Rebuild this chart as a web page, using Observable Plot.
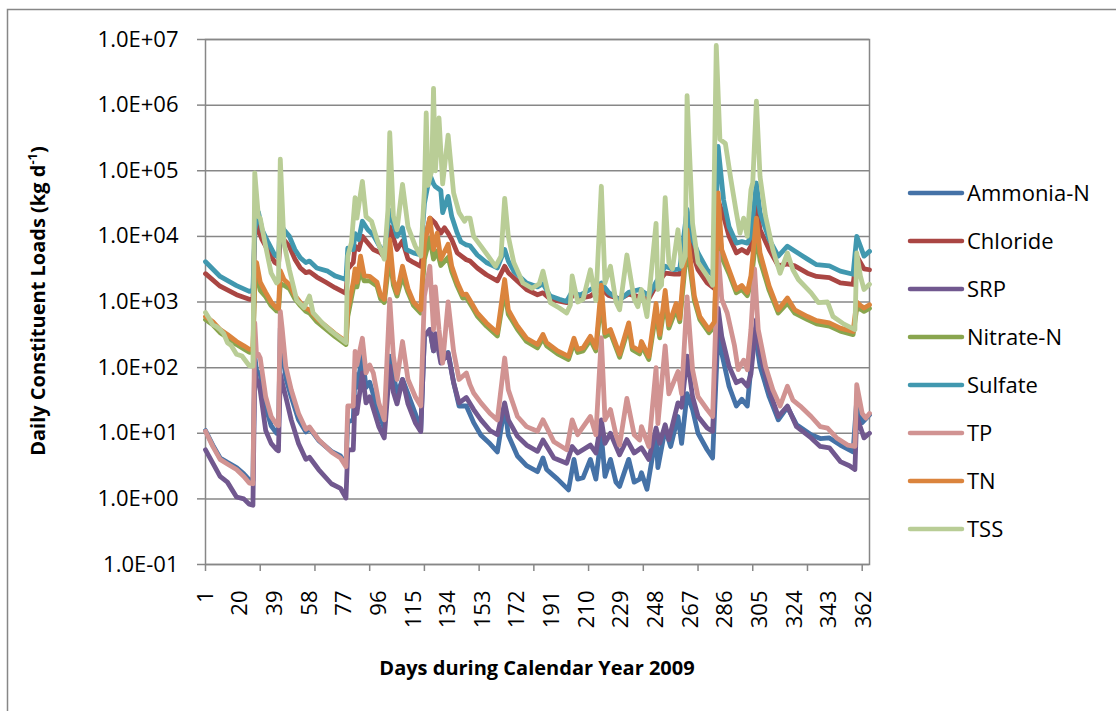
<!DOCTYPE html>
<html><head><meta charset="utf-8">
<script src="https://cdn.jsdelivr.net/npm/d3@7"></script>
<script src="https://cdn.jsdelivr.net/npm/@observablehq/plot@0.6"></script>
<style>html,body{margin:0;padding:0;background:#fff}</style>
</head><body><div id="chart"></div>
<script>
const seriesNames = ["Ammonia-N","Chloride","SRP","Nitrate-N","Sulfate","TP","TN","TSS"];
const seriesColors = ["#4572A7","#AA4643","#71588F","#89A54E","#4198AF","#D19392","#DB843D","#B9CD96"];

const ammoniaN = [[1,11],[5,6.6],[9,4.2],[13,3.6],[18,3.0],[22,2.4],[25,1.95],[27,1.9],[28,150],[29,90],[31,80],[34,25],[37,13],[40,10],[41,10],[42,400],[43,200],[45,70],[48,36],[52,16],[56,10.5],[58,12],[63,7.8],[70,5.3],[75,4.5],[78,3.3],[79,15],[82,16],[83,80],[84,50],[87,150],[89,50],[91,60],[96,20],[99,12],[102,150],[104,80],[106,40],[109,66],[112,40],[116,20],[119,11],[121,300],[124,380],[126,180],[127,300],[130,150],[134,170],[137,60],[140,26],[144,26],[148,14.5],[152,9.3],[157,6.9],[161,5.2],[165,26],[167,9.3],[172,4.5],[177,3.2],[183,2.6],[186,4.2],[188,2.8],[194,2.0],[200,1.37],[203,4.0],[205,2.0],[208,2.1],[212,4.0],[215,2.0],[218,9.3],[220,2.2],[223,4.0],[226,1.8],[228,1.55],[233,4.0],[236,1.8],[239,2.0],[240,2.5],[243,1.4],[248,9.3],[249,3.0],[253,11.7],[256,6.3],[260,18],[262,7],[265,40],[268,23],[271,10],[276,5.6],[279,4.2],[282,355],[284,166],[288,52],[292,26],[295,33],[298,26],[302,380],[305,105],[310,36],[315,16],[320,25],[325,13.5],[333,9.5],[338,8.3],[343,8.5],[349,6.6],[356,5.2],[358,32],[361,14.5],[365,19]];

const chloride = [[1,2700],[9,1740],[18,1290],[25,1100],[27,1120],[28,10000],[29,15000],[32,8900],[35,6300],[39,4000],[41,3700],[42,8900],[44,8900],[47,7000],[50,4500],[53,3300],[56,2800],[58,2900],[62,2400],[67,2000],[72,1650],[78,1350],[79,3200],[82,4000],[83,7100],[85,6300],[87,10000],[90,7900],[93,6300],[97,5600],[99,4800],[102,14000],[106,6300],[109,8500],[112,4500],[115,4000],[119,3500],[121,7900],[124,19000],[127,15800],[130,11200],[132,13500],[134,11200],[136,8900],[139,5600],[144,4400],[146,4200],[150,3300],[155,2600],[161,2100],[165,3500],[167,2800],[170,2350],[177,1550],[183,1290],[186,1380],[190,1100],[199,980],[203,1320],[207,1150],[212,1230],[218,1600],[222,1260],[228,1120],[233,1320],[239,1200],[244,1120],[248,1780],[253,2750],[258,2650],[261,2650],[265,15800],[268,5600],[271,3100],[276,1950],[280,1600],[282,35000],[285,20400],[288,10000],[292,5600],[295,6300],[298,5600],[300,7100],[303,31600],[305,12600],[310,6300],[315,3550],[320,3800],[324,3550],[331,2750],[336,2450],[343,2350],[349,1950],[356,1850],[358,5000],[360,4000],[362,3200],[365,3100]];

const srp = [[1,5.6],[5,3.5],[9,2.2],[13,1.8],[18,1.07],[22,1.0],[25,0.83],[27,0.8],[28,90],[29,66],[30,60],[31,45],[34,11],[37,7],[40,5.6],[41,5.4],[42,80],[43,60],[45,36],[48,16],[52,7],[56,4],[58,4.3],[63,2.8],[70,1.7],[75,1.45],[78,1.03],[79,5.6],[82,5.6],[83,36],[84,20],[87,83],[89,29],[91,36],[96,12.6],[99,8.5],[102,105],[104,42],[106,28],[109,66],[112,28],[116,14.5],[119,10.6],[121,300],[124,380],[126,180],[127,330],[130,117],[134,165],[137,59],[140,29],[144,35],[148,23],[152,16],[157,11],[161,9.5],[165,29],[167,16],[172,9],[177,6.6],[183,5.3],[186,7.9],[192,4.2],[199,3.5],[202,6.3],[205,5],[212,6.6],[215,5],[218,16],[220,7],[223,10],[228,4.7],[232,8],[236,5],[240,6],[244,4],[248,12],[250,7],[253,13.5],[255,8],[260,29],[262,25],[265,150],[268,36],[271,18],[276,12],[279,10.7],[282,800],[284,300],[288,105],[292,59],[295,65],[298,52],[300,80],[303,540],[305,166],[310,46],[315,18],[320,26],[325,12.6],[333,8.5],[338,6.3],[343,6],[349,3.7],[354,3.2],[357,2.8],[358,18],[362,8.5],[365,10]];

const nitrateN = [[1,540],[5,450],[9,340],[13,288],[18,225],[22,193],[25,171],[27,171],[28,1900],[29,2600],[31,1500],[34,1200],[37,880],[40,730],[41,720],[42,1900],[44,1800],[47,1600],[50,1120],[53,880],[56,720],[58,680],[62,500],[67,385],[72,297],[78,225],[79,600],[82,1600],[83,2200],[84,1700],[86,3000],[88,2100],[91,2100],[95,1750],[97,1120],[99,980],[102,5000],[104,1800],[106,1230],[109,2500],[112,1400],[115,890],[119,680],[121,4500],[124,9500],[126,4500],[128,6000],[130,3600],[134,4800],[136,2900],[139,1750],[142,1150],[144,1170],[147,850],[150,610],[155,430],[161,305],[165,1500],[167,650],[172,385],[177,250],[183,200],[186,280],[188,215],[194,162],[200,133],[203,240],[205,170],[208,180],[212,265],[215,180],[218,1150],[220,300],[223,335],[228,144],[233,410],[235,188],[239,162],[240,220],[244,133],[248,700],[250,285],[253,1050],[255,400],[259,780],[261,500],[265,7500],[269,1050],[272,540],[277,340],[280,420],[282,26000],[284,4800],[288,2700],[292,1380],[295,1550],[298,1250],[300,1900],[303,11000],[305,4300],[310,1500],[315,680],[320,960],[324,680],[331,540],[336,465],[343,430],[349,360],[356,318],[358,800],[360,780],[362,720],[365,800]];

const sulfate = [[1,4100],[9,2450],[18,1780],[25,1450],[27,1500],[28,12600],[30,23500],[32,12600],[35,8500],[39,5200],[41,4800],[42,16000],[44,12600],[47,10000],[50,6300],[53,4700],[56,4000],[58,4200],[62,3300],[68,2950],[72,2500],[78,2200],[79,6600],[82,6300],[83,11000],[85,9000],[87,17000],[90,12600],[93,10500],[97,6600],[99,5600],[102,25000],[106,10000],[109,13500],[111,6300],[115,5600],[119,5200],[121,31600],[124,87000],[126,63000],[127,57500],[130,50000],[131,23000],[134,40700],[136,20000],[139,11200],[141,8300],[144,7400],[146,7200],[150,5200],[155,4000],[161,3300],[165,6300],[167,4200],[170,2950],[177,1950],[183,1700],[186,1900],[190,1230],[195,1100],[199,1020],[202,1450],[206,1260],[212,1550],[218,1950],[222,1400],[228,1070],[233,1400],[239,1550],[244,1260],[248,2000],[253,3500],[258,3100],[261,3200],[265,25700],[268,9000],[271,5600],[276,3100],[280,2450],[282,234000],[285,36000],[288,14000],[292,7900],[295,8300],[298,7900],[300,10000],[303,65000],[305,23000],[310,9000],[315,5000],[320,7100],[324,6000],[331,4500],[336,3700],[343,3550],[349,2950],[356,2650],[358,10000],[360,7100],[362,5000],[365,5900]];

const tp = [[1,10.7],[5,6.3],[9,4.0],[13,3.4],[18,2.8],[22,2.2],[25,1.74],[27,1.7],[28,480],[29,150],[30,160],[31,140],[34,36],[37,18],[40,13.5],[41,13],[42,720],[43,400],[45,105],[48,46],[52,20],[56,11.5],[58,12.5],[63,8],[70,5.2],[75,4.2],[78,3.1],[79,26],[82,26],[83,177],[84,110],[87,280],[89,83],[91,110],[93,83],[96,29],[99,16],[102,1100],[104,150],[106,66],[109,250],[112,66],[116,36],[119,26],[121,1230],[124,3500],[126,380],[127,1700],[129,380],[131,117],[134,1000],[137,178],[140,66],[144,83],[146,55],[148,41],[152,29],[157,20],[161,16],[165,140],[167,46],[172,18],[177,12.6],[183,10.7],[186,16],[192,7.4],[199,5.6],[202,16],[205,9.5],[212,18],[215,9.5],[218,285],[220,16],[223,23],[226,9.5],[228,6.6],[232,34],[236,9.5],[239,7.9],[240,12.6],[244,6.3],[248,100],[249,14],[253,215],[255,40],[260,87],[262,40],[265,1200],[268,93],[271,36],[276,23],[279,18],[282,5600],[284,1100],[287,680],[291,215],[293,93],[296,130],[298,93],[300,380],[302,3200],[304,380],[308,105],[312,46],[316,26],[320,52],[323,32],[327,26],[333,18],[338,12.6],[342,12],[347,8.5],[353,6.6],[357,6.3],[358,55],[361,20],[363,17],[365,20]];

const tn = [[1,600],[5,500],[9,380],[13,320],[18,250],[22,215],[25,190],[27,190],[28,3200],[29,4000],[31,2000],[34,1400],[37,1000],[40,810],[41,800],[42,3000],[44,2200],[47,1850],[50,1260],[53,980],[56,800],[58,760],[62,560],[67,430],[72,330],[78,250],[79,760],[82,2000],[83,3200],[84,2000],[86,5000],[88,2500],[91,2450],[95,2000],[97,1260],[99,1100],[102,8900],[104,2200],[106,1380],[109,3500],[112,1600],[115,1000],[119,760],[121,7900],[124,19000],[126,6300],[128,11200],[130,4500],[134,7600],[136,3500],[139,2000],[142,1300],[144,1320],[147,950],[150,680],[155,480],[161,340],[165,2200],[167,760],[172,430],[177,280],[183,225],[186,320],[188,240],[194,180],[200,148],[203,280],[205,190],[208,200],[212,300],[215,200],[218,1800],[220,340],[223,380],[228,160],[233,480],[235,210],[239,180],[240,250],[244,148],[248,950],[250,320],[253,1500],[255,450],[259,950],[261,560],[265,12600],[269,1230],[272,600],[277,380],[280,500],[282,46000],[284,6300],[288,3100],[292,1550],[295,1780],[298,1400],[300,2500],[303,19000],[305,5600],[310,1740],[315,760],[320,1150],[324,760],[331,600],[336,520],[343,480],[349,400],[356,355],[358,1000],[360,890],[362,810],[365,910]];

const tss = [[1,690],[3,560],[5,450],[7,420],[9,380],[11,330],[13,240],[15,220],[18,160],[21,150],[25,107],[27,105],[28,93000],[30,20000],[31,19000],[34,7000],[37,2750],[40,1950],[41,2100],[42,150000],[44,8000],[47,3100],[51,1070],[55,820],[58,1230],[60,680],[65,480],[70,360],[78,240],[79,5000],[81,8000],[83,39000],[84,19000],[87,69000],[89,20000],[92,17000],[95,9000],[97,6300],[99,4500],[101,25000],[102,380000],[104,20400],[106,12600],[109,62000],[112,14000],[116,7100],[119,5000],[121,50000],[122,760000],[123,60000],[125,100000],[126,1800000],[127,100000],[129,640000],[131,63000],[134,350000],[137,46000],[140,23000],[143,17000],[144,19000],[146,19000],[148,10000],[152,7100],[156,5000],[160,3500],[163,5000],[165,38000],[167,10000],[170,4000],[175,1950],[180,1620],[184,1900],[186,2950],[190,980],[195,810],[199,680],[201,900],[202,2500],[205,1000],[208,1100],[212,3100],[215,1050],[218,58000],[220,1950],[223,3500],[226,1000],[228,760],[232,5200],[236,1100],[238,850],[240,1550],[243,600],[248,15800],[249,1550],[251,1800],[253,39000],[255,4000],[257,3200],[260,12600],[262,3500],[264,5000],[265,1400000],[268,15800],[271,4000],[276,2500],[279,1800],[281,8100000],[283,300000],[286,260000],[289,74000],[292,23000],[294,11200],[296,19000],[298,10000],[300,51000],[301,66000],[303,1150000],[305,81000],[308,20400],[312,6300],[316,2750],[320,5600],[323,3100],[326,2200],[333,1380],[337,980],[342,1000],[345,600],[351,460],[357,380],[358,5600],[360,2500],[362,1550],[365,1860]];

const seriesData = [ammoniaN, chloride, srp, nitrateN, sulfate, tp, tn, tss];

const xLabelDays = [1,20,39,58,77,96,115,134,153,172,191,210,229,248,267,286,305,324,343,362];
const xTickDays = [1,31,61,91,121,151,181,211,241,271,301,331,361];
const yTicks = [1e-1,1e0,1e1,1e2,1e3,1e4,1e5,1e6,1e7];
const yTickLabels = ["1.0E-01","1.0E+00","1.0E+01","1.0E+02","1.0E+03","1.0E+04","1.0E+05","1.0E+06","1.0E+07"];
const xTitle = "Days during Calendar Year 2009";
const yTitleMain = "Daily Constituent Loads (kg d";
const yTitleSup = "-1";
const yTitleEnd = ")";

const gridColor = "#878787";
const font = "'Open Sans', 'Noto Sans', sans-serif";

const chart = Plot.plot({
  width: 1116, height: 711,
  marginLeft: 205, marginRight: 247, marginTop: 39, marginBottom: 147,
  style: {fontFamily: font, fontSize: "22px", background: "white", color: "black"},
  x: {type: "linear", domain: [1, 365]},
  y: {type: "log", domain: [0.1, 1e7]},
  marks: [
    Plot.gridY(yTicks, {stroke: gridColor, strokeOpacity: 1, strokeWidth: 1.5}),
    Plot.frame({stroke: gridColor, strokeWidth: 1.5}),
    Plot.axisY(yTicks, {tickSize: 8, tickPadding: 19, stroke: gridColor, strokeWidth: 1.5, fill: "black", fontSize: 22, label: null,
      tickFormat: d => yTickLabels[yTicks.indexOf(d)]}),
    Plot.axisX(xTickDays, {tickSize: 7, stroke: gridColor, strokeWidth: 1.5, fill: "none", label: null}),
    Plot.axisX(xLabelDays, {tickSize: 0, tickPadding: 26, tickRotate: -90, fill: "black", fontSize: 22, label: null,
      tickFormat: d => String(d)}),
    ...seriesData.map((data, i) => Plot.line(data, {
      x: d => d[0], y: d => d[1], stroke: seriesColors[i], strokeWidth: 4.8,
      strokeLinejoin: "round", strokeLinecap: "round"
    }))
  ]
});

const svg = d3.select(chart);
// outer chart border
svg.insert("rect", ":first-child")
  .attr("x", 7.5).attr("y", 9.5).attr("width", 1200).attr("height", 800)
  .attr("fill", "none").attr("stroke", gridColor).attr("stroke-width", 1.5);

// legend
const lg = svg.append("g").attr("text-anchor", "start");
seriesNames.forEach((name, i) => {
  const y = 193 + 48 * i;
  lg.append("line").attr("x1", 910).attr("x2", 962).attr("y1", y).attr("y2", y)
    .attr("stroke", seriesColors[i]).attr("stroke-width", 4.5).attr("stroke-linecap", "round");
  lg.append("text").attr("x", 967).attr("y", y + 8).attr("font-size", 22).attr("text-anchor", "start")
    .attr("font-family", font).attr("fill", "black").text(name);
});

// axis titles
svg.append("text").attr("x", 537).attr("y", 675).attr("text-anchor", "middle")
  .attr("font-family", font).attr("font-weight", "bold").attr("font-size", 20).attr("fill", "black").text(xTitle);
const yt = svg.append("text").attr("transform", "translate(45,301) rotate(-90)").attr("text-anchor", "middle")
  .attr("font-family", font).attr("font-weight", "bold").attr("font-size", 20).attr("fill", "black");
yt.append("tspan").text(yTitleMain);
yt.append("tspan").attr("font-size", 13).attr("dy", -8).text(yTitleSup);
yt.append("tspan").attr("dy", 8).text(yTitleEnd);

document.getElementById("chart").appendChild(chart);
</script>
</body></html>
